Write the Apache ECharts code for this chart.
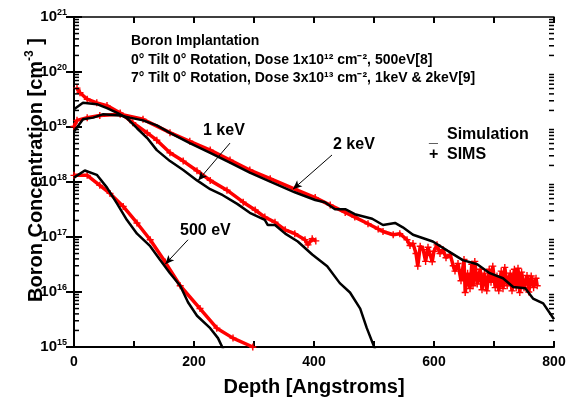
<!DOCTYPE html>
<html>
<head>
<meta charset="utf-8">
<script src="https://cdn.jsdelivr.net/npm/echarts@6/dist/echarts.min.js"></script>
<style>
  html, body { margin: 0; padding: 0; background: #fff; }
  #main { width: 577px; height: 402px; }
</style>
</head>
<body>
<div id="main"></div>
<script>
// depth [A], concentration [cm-3]
var sim500 = [[0,1.2e18],[18,1.62e18],[38,1.35e18],[55,7.9e17],[72,4.0e17],[88,2.05e17],[105,1.15e17],[127,6.8e16],[143,3.9e16],[160,2.2e16],[177,1.3e16],[190,6.5e15],[205,3.7e15],[227,2.2e15],[240,1.45e15],[249,9.0e14]];
var sims500 = [[0,1.32e18],[22,1.32e18],[43,8.7e17],[60,6.2e17],[82,3.6e17],[105,1.8e17],[127,8.9e16],[152,3.5e16],[177,1.3e16],[210,5.0e15],[238,2.2e15],[265,1.45e15],[298,1.0e15]];

var sim1k = [[0,2.1e19],[15,2.75e19],[38,2.6e19],[55,2.2e19],[72,1.8e19],[88,1.45e19],[105,9.5e18],[122,6.3e18],[138,3.8e18],[160,2.4e18],[182,1.65e18],[205,1.07e18],[227,7.4e17],[248,5.75e17],[272,4.0e17],[293,2.75e17],[318,2.05e17],[323,1.65e17],[335,1.65e17],[352,1.15e17],[373,8.3e16],[397,4.8e16],[422,2.95e16],[443,1.45e16],[460,9.8e15],[477,5.0e15],[488,2.2e15],[502,9.0e14]];
var sims1k = [[5,5.1e19],[10,4.2e19],[22,3.2e19],[38,2.75e19],[55,2.45e19],[77,1.8e19],[98,1.2e19],[122,7.8e18],[138,5.75e18],[160,3.4e18],[182,2.4e18],[205,1.6e18],[227,1.07e18],[255,7.1e17],[282,4.3e17],[302,3.1e17],[318,2.3e17],[335,1.85e17],[352,1.35e17],[368,1.15e17],[385,8.9e16],[390,7.2e16],[397,9.3e16],[403,8.5e16]];

var sim2k = [[0,8.3e18],[15,1.38e19],[32,1.48e19],[48,1.7e19],[77,1.62e19],[93,1.48e19],[115,1.32e19],[138,1.07e19],[160,7.8e18],[193,5.1e18],[227,3.4e18],[260,2.24e18],[293,1.48e18],[327,1.02e18],[368,6.5e17],[402,4.7e17],[418,4.3e17],[435,3.2e17],[452,3.2e17],[468,2.6e17],[497,2.15e17],[515,1.65e17],[535,1.8e17],[548,1.5e17],[565,1.1e17],[598,8.3e16],[623,5.6e16],[648,3.8e16],[672,3.2e16],[693,2.2e16],[715,1.78e16],[732,1.23e16],[752,1.17e16],[765,7.6e15],[782,6.2e15],[800,3.2e15]];
var sims2k = [[0,1.02e19],[5,1.32e19],[22,1.48e19],[43,1.62e19],[77,1.7e19],[115,1.38e19],[160,7.9e18],[193,5.5e18],[227,3.8e18],[260,2.5e18],[293,1.65e18],[327,1.15e18],[368,7.4e17],[402,5.2e17],[427,3.8e17],[452,2.8e17],[468,2.3e17],[490,1.74e17],[507,1.4e17],[515,1.26e17],[532,1.1e17],[543,1.15e17],
  [555,8.9e16],[560,7.0e16],[565,7.6e16],[570,5.0e16],[573,2.95e16],[577,6.8e16],[582,5.9e16],[586,3.6e16],[590,6.5e16],[597,3.55e16],[600,5.5e16],[605,7.2e16],[610,5.0e16],[615,5.9e16],[620,4.2e16],[627,4.8e16],[632,3.0e16],[635,2.4e16],
  [640,3.3e16],[645,1.6e16],[650,3.9e16],[652,9.8e15],[656,2.2e16],[660,1.15e16],[663,3.2e16],[665,1.3e16],[668,3.6e16],[672,1.4e16],[677,2.6e16],[680,1.1e16],[684,2.2e16],[688,1.05e16],[692,2.6e16],[695,1.5e16],[698,2.95e16],[702,1.2e16],[705,1.95e16],[708,1.05e16],[712,2.4e16],[715,1.15e16],[718,2.8e16],[722,1.3e16],[727,2.2e16],[730,1.05e16],[734,2.6e16],[737,1.2e16],[740,2.7e16],[743,9.8e15],[746,2.3e16],[750,1.2e16],[755,2.0e16],[758,1.0e16],[762,1.95e16],[766,1.2e16],[770,1.78e16],[772,1.3e16]];

var xLabels = [0, 200, 400, 600, 800];
var yExponents = [15, 16, 17, 18, 19, 20, 21];
var minorMantissas = [2, 3, 4, 5, 6, 7, 8, 9];

// arrows for the energy labels: [from, to] in data units
var arrow1k = [[260, 5.1e18], [207, 1.07e18]];
var arrow2k = [[430, 3.1e18], [365, 7.4e17]];
var arrow500 = [[190, 8.9e16], [152, 3.2e16]];

var minorTicks = [];
for (var e = yExponents[0]; e < yExponents[yExponents.length - 1]; e++) {
  minorMantissas.forEach(function (m) { minorTicks.push([0, m * Math.pow(10, e)]); });
}

var FONT = 'Liberation Sans';
var PLUS = 'path://M4,0H6V4H10V6H6V10H4V6H0V4H4Z';

function simsSeries(data) {
  return {
    type: 'line', data: data, symbol: PLUS, symbolSize: 7, showSymbol: true,
    itemStyle: { color: '#ff0000' },
    lineStyle: { color: '#ff0000', width: 3.5 },
    z: 2, silent: true
  };
}
function simSeries(data) {
  return {
    type: 'line', data: data, showSymbol: false,
    lineStyle: { color: '#000', width: 2.5 },
    z: 3, silent: true
  };
}
function arrowLine(a) {
  return [{ coord: a[0] }, { coord: a[1] }];
}

var yLabelRich = {
  b: { fontFamily: FONT, fontWeight: 'bold', fontSize: 15, color: '#000', lineHeight: 18 },
  s: { fontFamily: FONT, fontWeight: 'bold', fontSize: 9, color: '#000', verticalAlign: 'top', lineHeight: 18, padding: [0, 0, 8, 0] }
};

var myChart = echarts.init(document.getElementById('main'));

var option = {
  animation: false,
  backgroundColor: '#fff',
  grid: { left: 74, right: 23, top: 17, bottom: 50, containLabel: false },
  xAxis: [{
    type: 'value', min: 0, max: 800, interval: 100,
    name: 'Depth [Angstroms]', nameLocation: 'middle', nameGap: 30, nameMoveOverlap: false,
    nameTextStyle: { fontFamily: FONT, fontWeight: 'bold', fontSize: 20, color: '#000' },
    axisLine: { lineStyle: { color: '#000', width: 2 } },
    axisTick: { inside: true, length: 6, lineStyle: { color: '#000', width: 2 } },
    axisLabel: {
      margin: 8, fontFamily: FONT, fontWeight: 'bold', fontSize: 14, color: '#000',
      formatter: function (v) { return xLabels.indexOf(v) >= 0 ? String(v) : ''; }
    },
    splitLine: { show: false }
  }, {
    type: 'value', min: 0, max: 800, interval: 100, position: 'top',
    axisLine: { lineStyle: { color: '#000', width: 1.5 } },
    axisTick: { inside: true, length: 6, lineStyle: { color: '#000', width: 2 } },
    axisLabel: { show: false },
    splitLine: { show: false }
  }],
  yAxis: [{
    type: 'log', logBase: 10, min: 1e15, max: 1e21, splitNumber: 6,
    name: '{n|Boron Concentration [cm}{s|-3}{n| ]}', nameLocation: 'middle', nameGap: 26, nameMoveOverlap: false,
    nameTextStyle: {
      padding: [0, 0, 0, 24],
      rich: {
        n: { fontFamily: FONT, fontWeight: 'bold', fontSize: 20, color: '#000', lineHeight: 24 },
        s: { fontFamily: FONT, fontWeight: 'bold', fontSize: 12, color: '#000', verticalAlign: 'top', lineHeight: 24, padding: [0, 0, 12, 0] }
      }
    },
    axisLine: { lineStyle: { color: '#000', width: 2 } },
    axisTick: { inside: true, length: 8, lineStyle: { color: '#000', width: 2 } },
    axisLabel: {
      margin: 7,
      formatter: function (v) { return '{b|10}{s|' + Math.round(Math.log10(v)) + '}'; },
      rich: yLabelRich
    },
    splitLine: { show: false }
  }, {
    type: 'log', logBase: 10, min: 1e15, max: 1e21, splitNumber: 6, position: 'right',
    axisLine: { lineStyle: { color: '#000', width: 2 } },
    axisTick: { inside: true, length: 8, lineStyle: { color: '#000', width: 2 } },
    axisLabel: { show: false },
    splitLine: { show: false }
  }],
  series: [
    simsSeries(sims2k),
    simsSeries(sims1k),
    simsSeries(sims500),
    simSeries(sim2k),
    simSeries(sim1k),
    simSeries(sim500),
    {
      type: 'line', data: [], silent: true,
      markLine: {
        silent: true, symbol: ['none', 'arrow'], symbolSize: [6, 9],
        label: { show: false },
        lineStyle: { color: '#000', width: 1, type: 'solid' },
        data: [arrowLine(arrow1k), arrowLine(arrow2k), arrowLine(arrow500)]
      }
    },
    {
      // minor log ticks on left and right axes
      type: 'custom', data: minorTicks, silent: true, clip: false, z: 5,
      renderItem: function (params, api) {
        var v = api.value(1);
        var pl = api.coord([0, v]);
        var pr = api.coord([800, v]);
        return {
          type: 'group',
          children: [
            { type: 'line', shape: { x1: pl[0], y1: pl[1], x2: pl[0] + 5, y2: pl[1] }, style: { stroke: '#000', lineWidth: 1.5 } },
            { type: 'line', shape: { x1: pr[0] - 5, y1: pr[1], x2: pr[0], y2: pr[1] }, style: { stroke: '#000', lineWidth: 1.5 } }
          ]
        };
      }
    }
  ],
  graphic: [
    { type: 'text', left: 131, top: 34, style: { text: 'Boron Implantation', font: 'bold 14px "Liberation Sans"', fill: '#000' } },
    { type: 'text', left: 131, top: 53, style: { text: '0° Tilt 0° Rotation, Dose 1x10¹² cm⁻², 500eV[8]', font: 'bold 14px "Liberation Sans"', fill: '#000' } },
    { type: 'text', left: 131, top: 71, style: { text: '7° Tilt 0° Rotation, Dose 3x10¹³ cm⁻², 1keV & 2keV[9]', font: 'bold 14px "Liberation Sans"', fill: '#000' } },
    { type: 'text', left: 203, top: 123, style: { text: '1 keV', font: 'bold 16px "Liberation Sans"', fill: '#000' } },
    { type: 'text', left: 333, top: 137, style: { text: '2 keV', font: 'bold 16px "Liberation Sans"', fill: '#000' } },
    { type: 'text', left: 180, top: 223, style: { text: '500 eV', font: 'bold 16px "Liberation Sans"', fill: '#000' } },
    { type: 'text', left: 429, top: 130, style: { text: '_', font: 'bold 16px "Liberation Sans"', fill: '#000' } },
    { type: 'text', left: 447, top: 127, style: { text: 'Simulation', font: 'bold 16px "Liberation Sans"', fill: '#000' } },
    { type: 'text', left: 429, top: 147, style: { text: '+', font: 'bold 16px "Liberation Sans"', fill: '#000' } },
    { type: 'text', left: 447, top: 147, style: { text: 'SIMS', font: 'bold 16px "Liberation Sans"', fill: '#000' } }
  ]
};

myChart.setOption(option);
</script>
</body>
</html>
